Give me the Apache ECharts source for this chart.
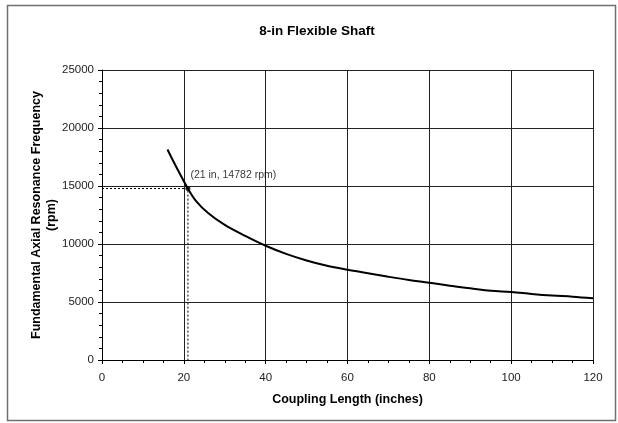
<!DOCTYPE html>
<html>
<head>
<meta charset="utf-8">
<style>
  html, body { margin: 0; padding: 0; background: #fff; }
  #chart { width: 618px; height: 423px; }
</style>
<script src="https://cdn.jsdelivr.net/npm/echarts@6/dist/echarts.min.js"></script>
</head>
<body>
<div id="chart"></div>
<script>
// Coupling length (inches) and fundamental axial resonance frequency (rpm)
var lengthIn = [16, 18, 21, 23, 26, 30, 35, 40, 45, 50, 55, 60, 65, 70, 75, 80, 85, 90, 95, 100, 105, 110, 115, 120];
var freqRpm  = [18150, 16750, 14782, 13700, 12650, 11650, 10700, 9850, 9150, 8580, 8120, 7780, 7480, 7180, 6900, 6660, 6400, 6180, 5960, 5870, 5700, 5560, 5460, 5320];

// Highlighted design point
var pointLength = 21;
var pointFreq = 14782;
var pointLabel = '(21 in, 14782 rpm)';

var titleText = '8-in Flexible Shaft';
var xAxisName = 'Coupling Length (inches)';
var yAxisName = 'Fundamental Axial Resonance Frequency\n(rpm)';

var FONT = 'Liberation Sans, Arial, sans-serif';

var curve = lengthIn.map(function (x, i) { return [x, freqRpm[i]]; });
var guide = [[0, pointFreq], [pointLength, pointFreq], [pointLength, 0]];

var chart = echarts.init(document.getElementById('chart'), null, { renderer: 'canvas' });

chart.setOption({
  backgroundColor: '#ffffff',
  animation: false,
  title: {
    text: titleText,
    left: 312,
    top: 19,
    textAlign: 'center',
    textStyle: { fontFamily: FONT, fontSize: 13.5, fontWeight: 'bold', color: '#000' }
  },
  graphic: [{
    type: 'rect',
    silent: true,
    shape: { x: 7.5, y: 5.5, width: 608, height: 415 },
    style: { fill: 'none', stroke: '#707070', lineWidth: 1.5 }
  }],
  grid: { left: 102, right: 25, top: 70, bottom: 63, containLabel: false },
  xAxis: {
    type: 'value',
    min: 0, max: 120, interval: 20,
    name: xAxisName,
    nameLocation: 'middle',
    nameGap: 33,
    nameMoveOverlap: false,
    nameTextStyle: { fontFamily: FONT, fontSize: 12.5, fontWeight: 'bold', color: '#000' },
    axisLine: { show: true, lineStyle: { color: '#000', width: 1 } },
    axisTick: { show: true, length: 4, lineStyle: { color: '#000' } },
    minorTick: { show: true, splitNumber: 4, length: 3, lineStyle: { color: '#000' } },
    axisLabel: { fontFamily: FONT, fontSize: 11.5, color: '#222', margin: 12 },
    splitLine: { show: true, lineStyle: { color: '#222', width: 1 } }
  },
  yAxis: {
    type: 'value',
    min: 0, max: 25000, interval: 5000,
    name: yAxisName,
    nameLocation: 'middle',
    nameRotate: 90,
    nameGap: 43,
    nameMoveOverlap: false,
    nameTextStyle: { fontFamily: FONT, fontSize: 12.5, fontWeight: 'bold', color: '#000', lineHeight: 15, align: 'center' },
    axisLine: { show: true, lineStyle: { color: '#000', width: 1 } },
    axisTick: { show: true, length: 4, lineStyle: { color: '#000' } },
    minorTick: { show: true, splitNumber: 5, length: 3, lineStyle: { color: '#000' } },
    axisLabel: {
      fontFamily: FONT, fontSize: 11.5, color: '#222', margin: 8,
      formatter: function (v) { return String(v); }
    },
    splitLine: { show: true, lineStyle: { color: '#222', width: 1 } }
  },
  series: [
    {
      type: 'line',
      data: guide,
      symbol: 'none',
      silent: true,
      lineStyle: { color: '#000', width: 1, type: [2, 2] },
      z: 3
    },
    {
      type: 'line',
      data: curve,
      smooth: 0.35,
      symbol: 'none',
      lineStyle: { color: '#000', width: 2 },
      z: 4
    },
    {
      type: 'scatter',
      data: [[pointLength, pointFreq]],
      symbol: 'circle',
      symbolSize: 5,
      itemStyle: { color: '#000' },
      label: {
        show: true,
        formatter: pointLabel,
        position: 'right',
        distance: 0,
        offset: [0, -13],
        fontFamily: FONT,
        fontSize: 10.5,
        color: '#000'
      },
      z: 5
    }
  ]
});
</script>
</body>
</html>
